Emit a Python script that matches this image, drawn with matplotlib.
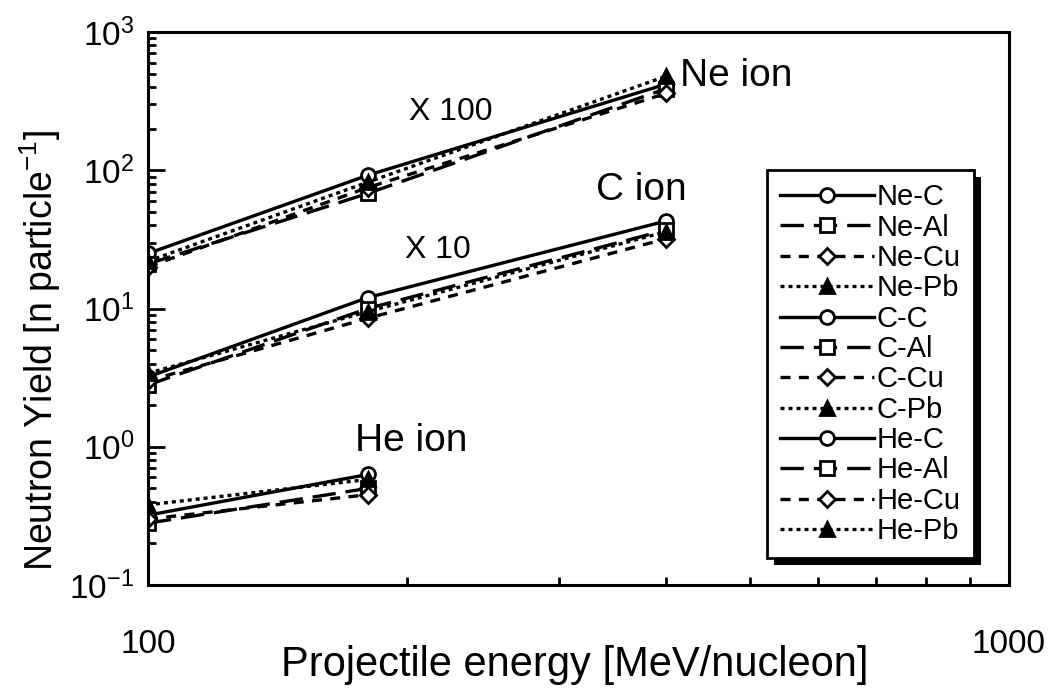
import matplotlib
matplotlib.use("Agg")
import matplotlib.pyplot as plt
from matplotlib.patches import Rectangle
from matplotlib.ticker import FixedLocator, FixedFormatter, LogLocator, NullFormatter

plt.rcParams['font.family'] = ['Liberation Sans', 'DejaVu Sans']
plt.rcParams['mathtext.fontset'] = 'custom'
plt.rcParams['mathtext.rm'] = 'Liberation Sans'
plt.rcParams['mathtext.default'] = 'regular'

NARROW = ['Liberation Sans Narrow', 'Liberation Sans', 'DejaVu Sans']

# Projectile energies (MeV/nucleon)
energies = [100, 180, 400]
he_energies = [100, 180]

# Neutron yields, Ne ion (x100)
ne_c = [25, 92, 420]
ne_al = [21, 68, 390]
ne_cu = [20, 75, 360]
ne_pb = [22, 82, 480]

# Neutron yields, C ion (x10)
c_c = [3.2, 12, 43]
c_al = [2.8, 10, 37]
c_cu = [3.0, 8.5, 32]
c_pb = [3.4, 9.5, 36]

# Neutron yields, He ion
he_c = [0.32, 0.63]
he_al = [0.28, 0.50]
he_cu = [0.30, 0.45]
he_pb = [0.38, 0.58]

targets = ['C', 'Al', 'Cu', 'Pb']
styles = {
    'C': dict(ls='-', marker='o', mfc='white'),
    'Al': dict(ls=(0, (7, 3)), marker='s', mfc='white'),
    'Cu': dict(ls=(0, (3, 2.5)), marker='D', mfc='white', ms=8),
    'Pb': dict(ls=(0, (1.2, 1.2)), marker='^', mfc='black'),
}

series = [
    ('Ne', energies, [ne_c, ne_al, ne_cu, ne_pb]),
    ('C', energies, [c_c, c_al, c_cu, c_pb]),
    ('He', he_energies, [he_c, he_al, he_cu, he_pb]),
]

fig = plt.figure(figsize=(10.48, 6.91), dpi=100)
ax = fig.add_axes([148 / 1048, 1 - 585 / 691, (1009 - 148) / 1048, (585 - 32) / 691])

for ion, x, ys in series:
    for tgt, y in zip(targets, ys):
        st = dict(color='black', lw=2.4, ms=10, mec='black', mew=2.0)
        st.update(styles[tgt])
        ax.plot(x, y, label=f'{ion}-{tgt}', **st)

ax.set_xscale('log')
ax.set_yscale('log')
ax.set_xlim(100, 1000)
ax.set_ylim(0.1, 1000)

ax.xaxis.set_major_locator(FixedLocator([100, 1000]))
ax.xaxis.set_major_formatter(FixedFormatter(['100', '1000']))
ax.xaxis.set_minor_locator(LogLocator(base=10, subs=range(2, 10)))
ax.xaxis.set_minor_formatter(NullFormatter())

yt = [0.1, 1, 10, 100, 1000]
ax.yaxis.set_major_locator(FixedLocator(yt))
ax.yaxis.set_major_formatter(FixedFormatter(
    ['$10^{-1}$', '$10^{0}$', '$10^{1}$', '$10^{2}$', '$10^{3}$']))
ax.yaxis.set_minor_locator(LogLocator(base=10, subs=range(2, 10)))
ax.yaxis.set_minor_formatter(NullFormatter())

ax.tick_params(which='both', direction='in', top=False, right=False, width=2)
ax.tick_params(which='major', length=12)
ax.tick_params(which='minor', length=6)
ax.tick_params(axis='x', pad=32, labelsize=24)
ax.tick_params(axis='y', pad=10, labelsize=24)
for lab in ax.get_xticklabels():
    lab.set_family(NARROW)
for sp in ax.spines.values():
    sp.set_linewidth(2.2)

ax.set_xlabel('Projectile energy [MeV/nucleon]', fontsize=30, family=NARROW, va='center')
ax.xaxis.set_label_coords(0.496, -0.145)
ax.set_ylabel('Neutron Yield [n particle$^{-1}$]', fontsize=27, va='center')
ax.yaxis.set_label_coords(-0.125, 0.425)

# scale factors and ion names
ax.text(225, 263, 'X 100', fontsize=23, family=NARROW, ha='center', va='center')
ax.text(217, 26.5, 'X 10', fontsize=23, family=NARROW, ha='center', va='center')
ax.text(415, 480, 'Ne ion', fontsize=28, ha='left', va='center')
ax.text(374, 72, 'C ion', fontsize=28, ha='center', va='center')
ax.text(202, 1.1, 'He ion', fontsize=28, ha='center', va='center')

leg = ax.legend(loc='upper left', bbox_to_anchor=(0.719, 0.750), borderaxespad=0,
                fontsize=21, labelspacing=0.08, handlelength=3.2, handletextpad=0.1,
                borderpad=0.45, fancybox=False, framealpha=1, edgecolor='black')
leg.get_frame().set_linewidth(2)
leg.set_zorder(5)

# solid drop shadow behind the legend box
fig.canvas.draw()
bb = leg.get_window_extent().transformed(ax.transAxes.inverted())
dx, dy = 7 / 861, -7 / 553
ax.add_patch(Rectangle((bb.x0 + dx, bb.y0 + dy), bb.width, bb.height,
                       transform=ax.transAxes, facecolor='black', edgecolor='none',
                       zorder=4.9, clip_on=False))

fig.savefig('out.png', dpi=100)
